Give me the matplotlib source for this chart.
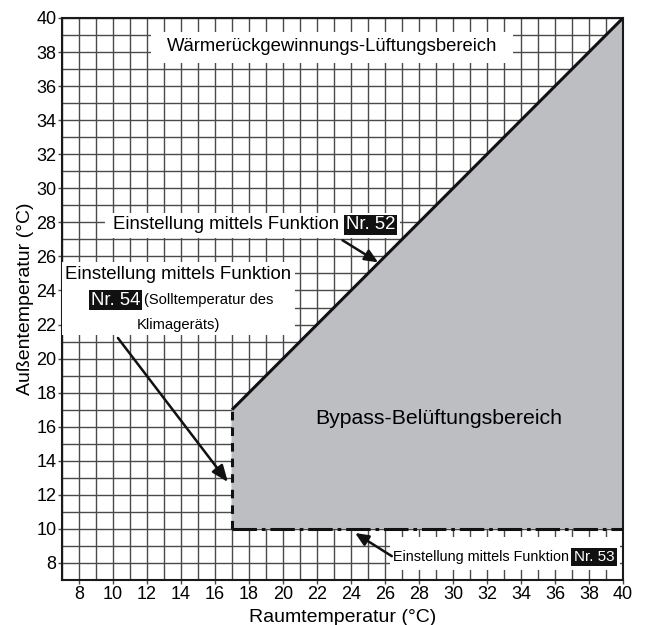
import matplotlib.pyplot as plt
from matplotlib.patches import Polygon, Rectangle

plt.rcParams['font.family'] = ['Liberation Sans', 'DejaVu Sans']

# chart data
x_min, x_max = 7, 40
y_min, y_max = 7, 40
x_ticks = list(range(8, 41, 2))
y_ticks = list(range(8, 41, 2))

# bypass region corners (room temp, outside temp)
bypass_x = [17, 17, 40, 40]
bypass_y = [10, 17, 40, 10]

fig = plt.figure(figsize=(6.52, 6.25), dpi=100)
ax = fig.add_axes([0.0951, 0.072, 0.8604, 0.8992])
ax.set_xlim(x_min, x_max)
ax.set_ylim(y_min, y_max)

ax.set_xticks(x_ticks)
ax.set_yticks(y_ticks)
ax.set_xticks(range(x_min, x_max + 1), minor=True)
ax.set_yticks(range(y_min, y_max + 1), minor=True)
ax.grid(which='both', color='#4a4a4a', lw=1.0, zorder=0)
ax.set_axisbelow(True)
ax.tick_params(which='major', length=3, width=1.0, color='#4a4a4a', labelsize=13, pad=1)
ax.tick_params(which='minor', length=0)
for s in ax.spines.values():
    s.set_linewidth(1.5)
    s.set_color('#1a1a1a')

ax.set_xlabel('Raumtemperatur (°C)', fontsize=14, labelpad=5)
ax.set_ylabel('Außentemperatur (°C)', fontsize=14, labelpad=2)

# bypass area
poly = Polygon(list(zip(bypass_x, bypass_y)), closed=True, facecolor='#bdbec2',
               edgecolor='none', zorder=2)
ax.add_patch(poly)
# boundary lines
ax.plot(bypass_x[1:3], bypass_y[1:3], color='#111111', lw=2.2, zorder=3,
        solid_capstyle='butt')
ax.plot(bypass_x[0:2], bypass_y[0:2], color='#111111', lw=2.2, zorder=3,
        linestyle=(0, (2.8, 2.3)))
ax.plot([bypass_x[0], bypass_x[3]], [bypass_y[0], bypass_y[3]], color='#111111',
        lw=2.2, zorder=3, linestyle=(0, (8, 1.6, 1.2, 1.6)))

# white label backgrounds
for (bx, by, bw, bh) in [(12.24, 37.36, 21.29, 1.82),
                         (9.53, 27.08, 17.35, 1.47),
                         (7.0, 21.39, 13.7, 4.28),
                         (26.29, 7.59, 13.53, 1.93)]:
    ax.add_patch(Rectangle((bx, by), bw, bh, facecolor='white',
                           edgecolor='none', zorder=4))

ax.text(22.9, 38.3, 'Wärmerückgewinnungs-Lüftungsbereich', fontsize=13.3,
        ha='center', va='center', zorder=5)
ax.text(29.15, 16.5, 'Bypass-Belüftungsbereich', fontsize=15.3,
        ha='center', va='center', zorder=5)

# Nr. 52
t52 = ax.text(10.0, 27.85, 'Einstellung mittels Funktion', fontsize=13.4,
              ha='left', va='center', zorder=5)
ax.annotate('Nr. 52', xy=(1, 0.5), xycoords=t52, xytext=(5, 0),
            textcoords='offset points', ha='left', va='center', fontsize=13.4,
            color='white', zorder=6,
            bbox=dict(facecolor='#111111', edgecolor='none', pad=1.2))
ax.annotate('', xy=(25.6, 25.65), xytext=(23.5, 26.95), zorder=6,
            arrowprops=dict(arrowstyle='-|>,head_length=0.8,head_width=0.35',
                            color='#111111', lw=1.8, shrinkA=0, shrinkB=0))

# Nr. 54
ax.text(13.85, 24.91, 'Einstellung mittels Funktion', fontsize=13.4,
        ha='center', va='center', zorder=5)
ax.text(8.7, 23.44, 'Nr. 54', fontsize=13.4, ha='left', va='center', color='white',
        zorder=6, bbox=dict(facecolor='#111111', edgecolor='none', pad=1.2))
ax.text(11.82, 23.44, '(Solltemperatur des', fontsize=10.6,
        ha='left', va='center', zorder=5)
ax.text(13.85, 21.97, 'Klimageräts)', fontsize=10.6,
        ha='center', va='center', zorder=5)
ax.annotate('', xy=(16.76, 12.75), xytext=(10.29, 21.21), zorder=6,
            arrowprops=dict(arrowstyle='-|>,head_length=1.0,head_width=0.4',
                            color='#111111', lw=1.8, shrinkA=0, shrinkB=0))

# Nr. 53
t53 = ax.text(26.5, 8.35, 'Einstellung mittels Funktion', fontsize=10.4,
              ha='left', va='center', zorder=5)
ax.annotate('Nr. 53', xy=(1, 0.5), xycoords=t53, xytext=(3, 0),
            textcoords='offset points', ha='left', va='center', fontsize=11,
            color='white', zorder=6,
            bbox=dict(facecolor='#111111', edgecolor='none', pad=1.6))
ax.annotate('', xy=(24.24, 9.76), xytext=(26.4, 8.4), zorder=6,
            arrowprops=dict(arrowstyle='-|>,head_length=0.8,head_width=0.35',
                            color='#111111', lw=1.8, shrinkA=0, shrinkB=0))

fig.savefig('out.png', dpi=100)
